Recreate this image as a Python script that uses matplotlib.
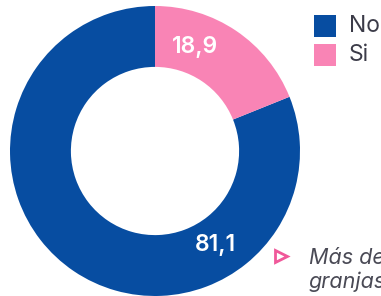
import numpy as np
import matplotlib.pyplot as plt
from matplotlib.patches import Rectangle
from matplotlib.lines import Line2D

plt.rcParams['font.family'] = ['Inter', 'DejaVu Sans']

categorias = ['No', 'Si']
valores = [81.1, 18.9]
etiquetas = ['81,1', '18,9']
colores = ['#074DA1', '#F984B5']
angulos_etiqueta = [-57, 69]  # donde van los numeros

W, H = 381, 296
fig = plt.figure(figsize=(W / 100, H / 100), dpi=100)
ax = fig.add_axes([10 / W, 0, 290 / W, 290 / H])
ax.pie(valores, colors=colores, startangle=90, counterclock=True,
       radius=1, wedgeprops=dict(width=0.42, linewidth=0))
ax.set_xlim(-1, 1)
ax.set_ylim(-1, 1)
ax.set_aspect('equal')

r_lab = 0.77
for lab, ang in zip(etiquetas, angulos_etiqueta):
    a = np.deg2rad(ang)
    ax.text(r_lab * np.cos(a), r_lab * np.sin(a), lab, color='white',
            fontsize=16.5, fontweight='semibold', ha='center', va='center')

# leyenda a mano: cuadrados de 22 px
for i, (cat, col) in enumerate(zip(categorias, colores)):
    y_top = 15 + i * 29
    fig.add_artist(Rectangle((314 / W, 1 - (y_top + 22) / H), 22 / W, 22 / H,
                             facecolor=col, edgecolor='none',
                             transform=fig.transFigure))
    fig.text(349 / W, 1 - (y_top + 11) / H, cat, fontsize=16.5,
             color='#3b3b48', ha='left', va='center')

fig.add_artist(Line2D([281 / W], [1 - 256 / H], marker='>', markersize=8,
                      markerfacecolor='none', markeredgecolor='#F0589A',
                      markeredgewidth=2, transform=fig.transFigure))
fig.text(309 / W, 1 - 264 / H, 'Más de', fontsize=15.5, style='italic',
         color='#4a4a55', ha='left', va='baseline')
fig.text(309 / W, 1 - 288 / H, 'granjas', fontsize=15.5, style='italic',
         color='#4a4a55', ha='left', va='baseline')

fig.savefig('out.png', dpi=100)
